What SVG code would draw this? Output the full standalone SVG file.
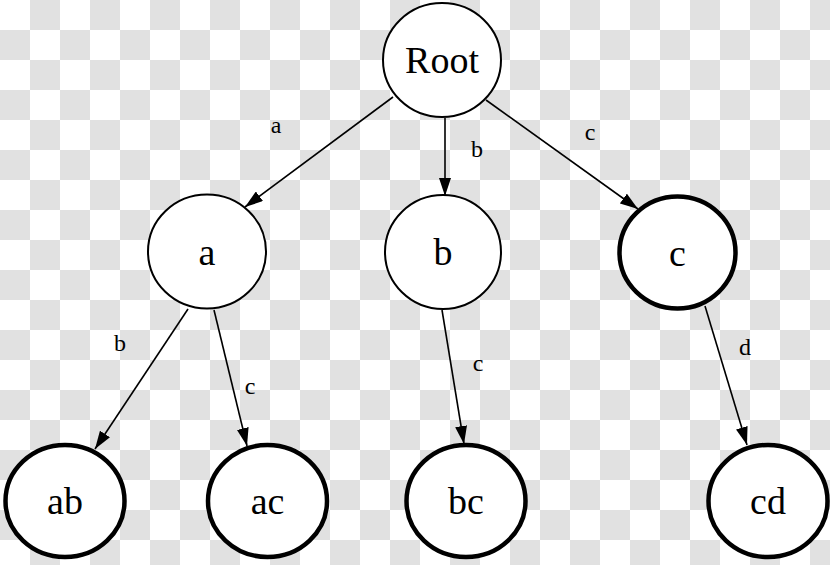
<svg xmlns="http://www.w3.org/2000/svg" width="830" height="565" viewBox="0 0 830 565">
<style>
.n ellipse{fill:#fff;stroke:#000;stroke-width:2}
.n.acc ellipse{stroke-width:4.5}
.n text{font-family:"Liberation Serif","DejaVu Serif",serif;font-size:38px;text-anchor:middle;fill:#000}
.e line{stroke:#000;stroke-width:1.6;marker-end:url(#ah)}
.e text{font-family:"Liberation Serif","DejaVu Serif",serif;font-size:24px;text-anchor:middle;fill:#000}
</style>
<defs>
<pattern id="chk" width="60" height="60" patternUnits="userSpaceOnUse">
<rect width="60" height="60" fill="#fff"/>
<rect x="30" y="0" width="30" height="30" fill="#e1e1e1"/>
<rect x="0" y="30" width="30" height="30" fill="#e1e1e1"/>
</pattern>
<marker id="ah" markerUnits="userSpaceOnUse" markerWidth="18" markerHeight="12" refX="18" refY="6" orient="auto">
<path d="M0,0 L18,6 L0,12 z" fill="#000"/>
</marker>
</defs>
<rect width="830" height="565" fill="url(#chk)"/>
<g id="connectors" class="e">
<line x1="393" y1="97" x2="245" y2="207"/>
<text x="276" y="133">a</text>
<line x1="445" y1="118" x2="445" y2="196"/>
<text x="477" y="157">b</text>
<line x1="486" y1="100" x2="638" y2="209"/>
<text x="590" y="140">c</text>
<line x1="188" y1="309" x2="95" y2="449"/>
<text x="120" y="351">b</text>
<line x1="214" y1="310" x2="247" y2="446"/>
<text x="250" y="394">c</text>
<line x1="442" y1="310" x2="464" y2="444"/>
<text x="478" y="371">c</text>
<line x1="705" y1="306" x2="747" y2="445"/>
<text x="745" y="355">d</text>
</g>
<g id="node-root" class="n"><ellipse cx="442" cy="60" rx="59" ry="57"/><text x="442" y="73">Root</text></g>
<g id="node-a" class="n"><ellipse cx="207" cy="251.5" rx="59" ry="57"/><text x="207" y="265">a</text></g>
<g id="node-b" class="n"><ellipse cx="443" cy="252" rx="58" ry="57"/><text x="443" y="265">b</text></g>
<g id="node-c" class="n acc"><ellipse cx="677.5" cy="252.5" rx="58" ry="56"/><text x="677.5" y="266">c</text></g>
<g id="node-ab" class="n acc"><ellipse cx="65" cy="501" rx="59.5" ry="56"/><text x="65" y="514">ab</text></g>
<g id="node-ac" class="n acc"><ellipse cx="267.5" cy="501" rx="59.5" ry="56"/><text x="267.5" y="514">ac</text></g>
<g id="node-bc" class="n acc"><ellipse cx="466" cy="501" rx="59.5" ry="56"/><text x="466" y="514">bc</text></g>
<g id="node-cd" class="n acc"><ellipse cx="768" cy="501" rx="59.5" ry="56"/><text x="768" y="514">cd</text></g>
</svg>
